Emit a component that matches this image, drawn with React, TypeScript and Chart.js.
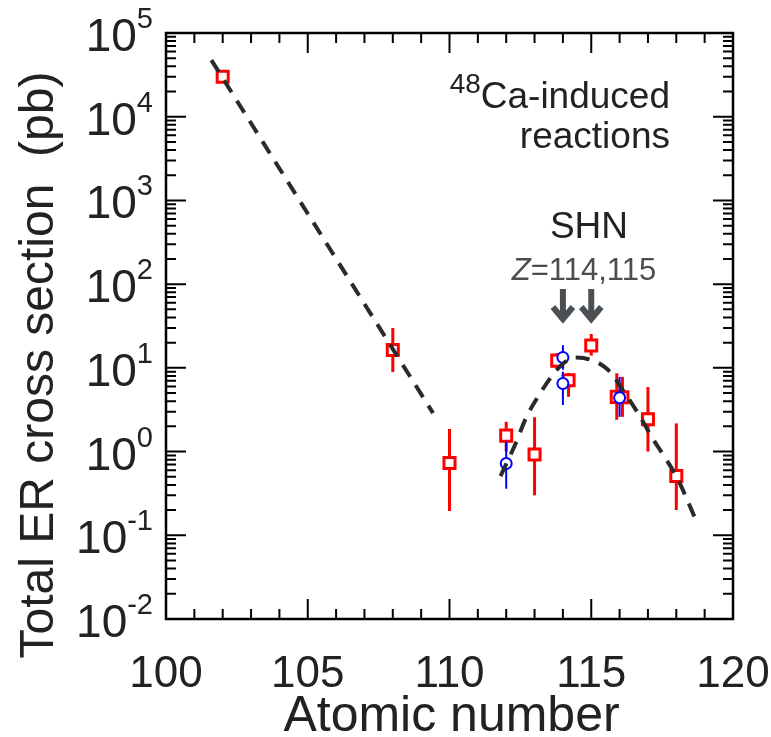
import React, { useEffect, useRef } from 'react';
import { Chart, registerables } from 'chart.js';

Chart.register(...registerables);

// ---- data ----
const xTickValues = [100, 105, 110, 115, 120];
const yTickExponents = [5, 4, 3, 2, 1, 0, -1, -2];

// dashed systematics curves
const fitLeftX = [101.6, 109.42];
const fitLeftY = [47500, 2.88];
const fitRightX = [111.8, 112.31, 112.72, 113.16, 113.66, 114.05, 114.4, 114.72, 115.57, 116.19, 116.69, 117.13, 117.66, 118.01, 118.54, 118.76];
const fitRightY = [0.51, 1.2, 2.61, 4.73, 8.43, 11.6, 13.3, 13.1, 9.6, 4.96, 2.73, 1.5, 0.79, 0.5, 0.2, 0.132];

// red squares
const redX = [102, 108, 110, 112, 113, 113.8, 114.2, 115, 115.9, 116.1, 117, 118];
const redY = [30000, 16.3, 0.73, 1.55, 0.92, 12.2, 7.1, 18.5, 4.5, 4.45, 2.44, 0.51];
const redLo = [30000, 8.9, 0.195, 1.0, 0.3, 10, 4.5, 14, 2.4, 2.6, 1.0, 0.2];
const redHi = [30000, 29.9, 1.86, 2.27, 2.57, 15, 8.7, 25.4, 8.6, 7.8, 5.9, 2.17];

// blue circles
const blueX = [112, 114, 114, 116];
const blueY = [0.72, 13.3, 6.5, 4.4];
const blueLo = [0.36, 9.5, 3.6, 2.6];
const blueHi = [1.31, 18.7, 9, 7.8];

const arrowZ = [114, 115];

const FONT = '"Liberation Sans", Arial, Helvetica, sans-serif';
const TEXT = '#222222';

const pts = (xs: number[], ys: number[]) => xs.map((x, i) => ({ x, y: ys[i] }));

const decorPlugin = {
  id: 'decor',
  beforeDatasetDraw(chart: any, args: any) {
    const ds = chart.data.datasets[args.index];
    if (!ds.errLo) return;
    const { ctx } = chart;
    const xs = chart.scales.x;
    const ys = chart.scales.y;
    ctx.save();
    ctx.strokeStyle = ds.borderColor;
    ctx.lineWidth = ds.errWidth;
    ds.data.forEach((p: any, i: number) => {
      const px = xs.getPixelForValue(p.x);
      ctx.beginPath();
      ctx.moveTo(px, ys.getPixelForValue(ds.errLo[i]));
      ctx.lineTo(px, ys.getPixelForValue(ds.errHi[i]));
      ctx.stroke();
    });
    ctx.restore();
  },
  afterDraw(chart: any) {
    const { ctx, chartArea: a } = chart;
    const xs = chart.scales.x;
    const ys = chart.scales.y;
    ctx.save();
    // frame
    ctx.strokeStyle = '#000';
    ctx.lineWidth = 2.5;
    ctx.strokeRect(a.left, a.top, a.right - a.left, a.bottom - a.top);
    // x ticks
    ctx.lineWidth = 2;
    for (let v = 100; v <= 120; v++) {
      const px = xs.getPixelForValue(v);
      const len = v % 5 === 0 ? 20 : 10;
      ctx.beginPath();
      ctx.moveTo(px, a.bottom);
      ctx.lineTo(px, a.bottom - len);
      ctx.moveTo(px, a.top);
      ctx.lineTo(px, a.top + len);
      ctx.stroke();
    }
    // y ticks
    for (let e = -2; e <= 5; e++) {
      for (let m = 1; m <= 9; m++) {
        if (e === 5 && m > 1) break;
        const py = ys.getPixelForValue(m * Math.pow(10, e));
        const len = m === 1 ? 20 : 10;
        ctx.beginPath();
        ctx.moveTo(a.left, py);
        ctx.lineTo(a.left + len, py);
        ctx.moveTo(a.right, py);
        ctx.lineTo(a.right - len, py);
        ctx.stroke();
      }
    }
    // x tick labels
    ctx.fillStyle = TEXT;
    ctx.font = `44px ${FONT}`;
    ctx.textAlign = 'center';
    ctx.textBaseline = 'alphabetic';
    xTickValues.forEach((v) => {
      ctx.fillText(String(v), xs.getPixelForValue(v), a.bottom + 68);
    });
    // y tick labels with superscript exponents
    yTickExponents.forEach((e) => {
      const py = ys.getPixelForValue(Math.pow(10, e));
      ctx.font = `29px ${FONT}`;
      const expStr = e < 0 ? '-' + Math.abs(e) : String(e);
      const ew = ctx.measureText(expStr).width;
      ctx.textAlign = 'left';
      const right = a.left - 13;
      ctx.fillText(expStr, right - ew, py - 5);
      ctx.font = `46px ${FONT}`;
      ctx.textAlign = 'right';
      ctx.fillText('10', right - ew, py + 18);
    });
    // axis titles
    ctx.font = `50px ${FONT}`;
    ctx.textAlign = 'center';
    ctx.fillText('Atomic number', (a.left + a.right) / 2 + 2, 731);
    ctx.save();
    ctx.translate(40, 365);
    ctx.rotate(-Math.PI / 2);
    ctx.textBaseline = 'middle';
    ctx.font = `48px ${FONT}`;
    ctx.fillText('Total ER cross section  (pb)', 0, 0);
    ctx.restore();
    // annotation: 48Ca-induced reactions
    ctx.textAlign = 'right';
    ctx.font = `37px ${FONT}`;
    const caW = ctx.measureText('Ca-induced').width;
    ctx.fillText('Ca-induced', 670, 108);
    ctx.fillText('reactions', 670, 148);
    ctx.font = `28px ${FONT}`;
    ctx.fillText('48', 670 - caW, 93);
    // SHN
    ctx.textAlign = 'center';
    ctx.font = `37px ${FONT}`;
    ctx.fillText('SHN', 589, 238);
    // Z=114,115
    ctx.fillStyle = '#4d4d4d';
    ctx.font = `italic 31px ${FONT}`;
    const zW = ctx.measureText('Z').width;
    ctx.font = `31px ${FONT}`;
    const restW = ctx.measureText('=114,115').width;
    const zStart = 584 - (zW + restW) / 2;
    ctx.textAlign = 'left';
    ctx.font = `italic 31px ${FONT}`;
    ctx.fillText('Z', zStart, 280);
    ctx.font = `31px ${FONT}`;
    ctx.fillText('=114,115', zStart + zW, 280);
    // arrows
    ctx.strokeStyle = '#4a4f54';
    ctx.lineWidth = 6;
    ctx.lineJoin = 'miter';
    ctx.lineCap = 'butt';
    arrowZ.forEach((z) => {
      const px = xs.getPixelForValue(z);
      ctx.beginPath();
      ctx.moveTo(px, 289);
      ctx.lineTo(px, 318);
      ctx.stroke();
      ctx.beginPath();
      ctx.moveTo(px - 10, 307);
      ctx.lineTo(px, 319);
      ctx.lineTo(px + 10, 307);
      ctx.stroke();
    });
    ctx.restore();
  },
};

export default function App() {
  const ref = useRef<HTMLCanvasElement | null>(null);
  useEffect(() => {
    if (!ref.current) return;
    const chart = new Chart(ref.current, {
      type: 'scatter',
      data: {
        datasets: [
          {
            label: 'fit left',
            data: pts(fitLeftX, fitLeftY),
            showLine: true,
            borderColor: '#2a2a2a',
            borderWidth: 4,
            borderDash: [14, 10],
            pointRadius: 0,
            fill: false,
          },
          {
            label: 'fit right',
            data: pts(fitRightX, fitRightY),
            showLine: true,
            borderColor: '#2a2a2a',
            borderWidth: 4,
            borderDash: [14, 10],
            pointRadius: 0,
            cubicInterpolationMode: 'monotone',
            fill: false,
          },
          {
            label: 'blue',
            data: pts(blueX, blueY),
            borderColor: '#0000ff',
            backgroundColor: '#ffffff',
            pointStyle: 'circle',
            pointRadius: 5.5,
            pointBorderWidth: 2,
            errLo: blueLo,
            errHi: blueHi,
            errWidth: 2,
          } as any,
          {
            label: 'red',
            data: pts(redX, redY),
            borderColor: '#ff0000',
            backgroundColor: '#ffffff',
            pointStyle: 'rect',
            pointRadius: 7.8,
            pointBorderWidth: 3,
            errLo: redLo,
            errHi: redHi,
            errWidth: 3,
          } as any,
        ],
      },
      options: {
        animation: false,
        responsive: false,
        devicePixelRatio: 1,
        layout: { padding: { left: 166, top: 33, right: 38, bottom: 118 } },
        plugins: { legend: { display: false }, tooltip: { enabled: false } },
        scales: {
          x: { type: 'linear', min: 100, max: 120, display: false },
          y: { type: 'logarithmic', min: 0.01, max: 100000, display: false },
        },
      },
      plugins: [decorPlugin],
    });
    return () => chart.destroy();
  }, []);
  return (
    <div style={{ position: 'fixed', left: 0, top: 0, width: 771, height: 737, background: '#fff' }}>
      <canvas ref={ref} width={771} height={737} />
    </div>
  );
}
